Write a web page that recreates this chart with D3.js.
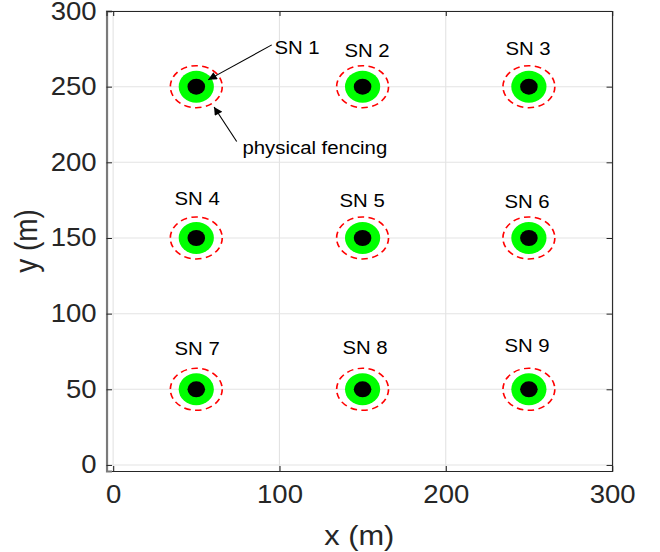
<!DOCTYPE html>
<html>
<head>
<meta charset="utf-8">
<script src="https://cdn.jsdelivr.net/npm/d3@7"></script>
<style>
  body { margin: 0; background: #fff; }
  text { font-family: "Liberation Sans", Arial, sans-serif; }
</style>
</head>
<body>
<div id="chart"></div>
<script>

// sensor nodes (m)
const nodeNames = ["SN 1", "SN 2", "SN 3", "SN 4", "SN 5", "SN 6", "SN 7", "SN 8", "SN 9"]
const nodeX = [50, 150, 250, 50, 150, 250, 50, 150, 250]
const nodeY = [250, 250, 250, 150, 150, 150, 50, 50, 50]

// where each name sits (m)
const labelX = [110.6, 152.7, 249.5, 50.5, 149.7, 248.9, 50.5, 151.5, 248.9]
const labelY = [276.3, 274.3, 275.6, 176.5, 175.1, 174.5, 77.3, 78, 79.3]

// fence radius (m), horizontal / vertical
const fenceR = [15.6, 13.9]

const xTicks = [0, 100, 200, 300]
const yTicks = [0, 50, 100, 150, 200, 250, 300]

// arrows: [fromX, fromY, toX, toY] in m
const arrows = [
  [95.4, 277.6, 57.1, 254.5],
  [74.3, 213.7, 60.7, 236.6]
]
const noteText = "physical fencing"
const noteX = 121.3
const noteY = 210.2

// picture is stretched 1.1x horizontally, like the original
const vbW = 600, vbH = 552

const svg = d3.select("#chart")
  .append("svg")
  .attr("width", 660)
  .attr("height", 552)
  .attr("viewBox", `0 0 ${vbW} ${vbH}`)
  .attr("preserveAspectRatio", "none")

const box = { left: 96.8, right: 556.4, top: 11, bottom: 471 }

const x = d3.scaleLinear().domain([-4, 300]).range([box.left, box.right])
const y = d3.scaleLinear().domain([-4, 300]).range([box.bottom, box.top])

svg.append("defs").append("marker")
  .attr("id", "head")
  .attr("viewBox", "0 0 10 10")
  .attr("refX", 10).attr("refY", 5)
  .attr("markerWidth", 11).attr("markerHeight", 8)
  .attr("markerUnits", "userSpaceOnUse")
  .attr("orient", "auto")
  .append("path")
  .attr("d", "M0,0 L10,5 L0,10 Z")
  .attr("fill", "#000")

// grid
const grid = svg.append("g").attr("stroke", "#e3e3e3").attr("stroke-width", 1)
grid.selectAll(".gx").data(xTicks).join("line")
  .attr("x1", d => x(d)).attr("x2", d => x(d))
  .attr("y1", box.top).attr("y2", box.bottom)
grid.selectAll(".gy").data(yTicks).join("line")
  .attr("y1", d => y(d)).attr("y2", d => y(d))
  .attr("x1", box.left).attr("x2", box.right)

// axes with ticks inside, like a matlab box
const xAxis = d3.axisBottom(x).tickValues(xTicks).tickSize(-5).tickPadding(14)
const yAxis = d3.axisLeft(y).tickValues(yTicks).tickSize(-5).tickPadding(9)

const gx = svg.append("g")
  .attr("transform", `translate(0,${box.bottom})`)
  .call(xAxis)
const gy = svg.append("g")
  .attr("transform", `translate(${box.left},0)`)
  .call(yAxis)

svg.append("g")
  .attr("transform", `translate(0,${box.top})`)
  .call(d3.axisTop(x).tickValues(xTicks).tickSize(-5).tickFormat(""))
svg.append("g")
  .attr("transform", `translate(${box.right},0)`)
  .call(d3.axisRight(y).tickValues(yTicks).tickSize(-5).tickFormat(""))

svg.selectAll(".domain").attr("stroke", "#262626").attr("stroke-width", 1)
svg.selectAll(".tick line").attr("stroke", "#262626")
gy.select(".domain").attr("stroke", "#7a7a7a").attr("stroke-width", 2)
svg.selectAll(".tick text")
  .attr("font-size", 25)
  .attr("fill", "#262626")
  .attr("font-family", "Liberation Sans, Arial, sans-serif")

svg.append("text")
  .attr("x", (box.left + box.right) / 2)
  .attr("y", 545)
  .attr("text-anchor", "middle")
  .attr("font-size", 28)
  .attr("fill", "#262626")
  .text("x (m)")

svg.append("text")
  .attr("transform", `translate(34,${(box.top + box.bottom) / 2}) rotate(-90)`)
  .attr("text-anchor", "middle")
  .attr("font-size", 28)
  .attr("fill", "#262626")
  .text("y (m)")

// nodes
const nodes = nodeNames.map((n, i) => ({ name: n, x: nodeX[i], y: nodeY[i], lx: labelX[i], ly: labelY[i] }))

const g = svg.append("g")

g.selectAll(".fence").data(nodes).join("ellipse")
  .attr("cx", d => x(d.x)).attr("cy", d => y(d.y))
  .attr("rx", x(fenceR[0]) - x(0))
  .attr("ry", y(0) - y(fenceR[1]))
  .attr("fill", "none")
  .attr("stroke", "#ff0000")
  .attr("stroke-width", 1.5)
  .attr("stroke-dasharray", "6,4")

g.selectAll(".zone").data(nodes).join("circle")
  .attr("cx", d => x(d.x)).attr("cy", d => y(d.y))
  .attr("r", 16)
  .attr("fill", "#00ff00")

g.selectAll(".sn").data(nodes).join("circle")
  .attr("cx", d => x(d.x)).attr("cy", d => y(d.y))
  .attr("r", 8)
  .attr("fill", "#000")

g.selectAll(".lbl").data(nodes).join("text")
  .attr("x", d => x(d.lx)).attr("y", d => y(d.ly))
  .attr("text-anchor", "middle")
  .attr("dominant-baseline", "central")
  .attr("font-size", 18.5)
  .attr("fill", "#000")
  .text(d => d.name)

// annotation
g.selectAll(".arrow").data(arrows).join("line")
  .attr("x1", d => x(d[0])).attr("y1", d => y(d[1]))
  .attr("x2", d => x(d[2])).attr("y2", d => y(d[3]))
  .attr("stroke", "#000")
  .attr("stroke-width", 1)
  .attr("marker-end", "url(#head)")

g.append("text")
  .attr("x", x(noteX)).attr("y", y(noteY))
  .attr("text-anchor", "middle")
  .attr("dominant-baseline", "central")
  .attr("font-size", 18.5)
  .attr("fill", "#000")
  .text(noteText)

</script>
</body>
</html>
